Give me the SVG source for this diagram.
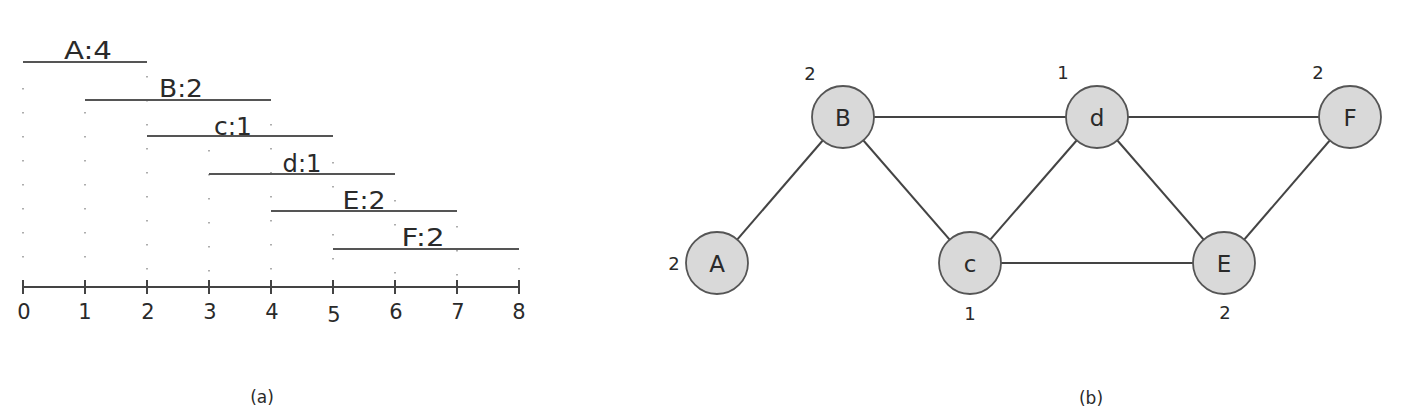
<svg xmlns="http://www.w3.org/2000/svg" width="1426" height="420" viewBox="0 0 1426 420">
<style>
text{font-family:"DejaVu Sans","Liberation Sans",sans-serif;fill:#2a2a2a}
.bar{stroke:#555;stroke-width:2.2;fill:none}
.grid{stroke:#999;stroke-width:1.6;stroke-dasharray:1.6 22.4;fill:none}
.axis{stroke:#444;stroke-width:2;fill:none}
.lbl{font-size:25px;text-anchor:middle}
.tick{font-size:21px;text-anchor:middle}
.cap{font-size:17px;text-anchor:middle}
.node circle{fill:#d9d9d9;stroke:#555;stroke-width:1.8}
.node text{font-size:23px;text-anchor:middle}
.deg{font-size:18px;text-anchor:middle}
.edge{stroke:#444;stroke-width:2;fill:none}
</style>
<g id="panel-a">
<g id="grid">
<line class="grid" x1="23" y1="88" x2="23" y2="280"/>
<line class="grid" x1="85" y1="112" x2="85" y2="280"/>
<line class="grid" x1="147" y1="76" x2="147" y2="280"/>
<line class="grid" x1="209" y1="150" x2="209" y2="280"/>
<line class="grid" x1="271" y1="124" x2="271" y2="280"/>
<line class="grid" x1="333" y1="162" x2="333" y2="280"/>
<line class="grid" x1="395" y1="200" x2="395" y2="280"/>
<line class="grid" x1="457" y1="226" x2="457" y2="280"/>
<line class="grid" x1="519" y1="268" x2="519" y2="280"/>
</g>
<g id="bars">
<line class="bar" x1="23" y1="62" x2="147" y2="62"/>
<line class="bar" x1="85" y1="100" x2="271" y2="100"/>
<line class="bar" x1="147" y1="136" x2="333" y2="136"/>
<line class="bar" x1="209" y1="174" x2="395" y2="174"/>
<line class="bar" x1="271" y1="211" x2="457" y2="211"/>
<line class="bar" x1="333" y1="249" x2="519" y2="249"/>
<text class="lbl" x="88" y="59" textLength="48" lengthAdjust="spacingAndGlyphs">A:4</text>
<text class="lbl" x="181" y="97" textLength="44" lengthAdjust="spacingAndGlyphs">B:2</text>
<text class="lbl" x="233" y="135" textLength="38" lengthAdjust="spacingAndGlyphs">c:1</text>
<text class="lbl" x="302" y="172" textLength="39" lengthAdjust="spacingAndGlyphs">d:1</text>
<text class="lbl" x="364" y="209" textLength="43" lengthAdjust="spacingAndGlyphs">E:2</text>
<text class="lbl" x="423" y="246" textLength="43" lengthAdjust="spacingAndGlyphs">F:2</text>
</g>
<g id="axis">
<line class="axis" x1="23" y1="287" x2="519" y2="287"/>
<path class="axis" d="M23 280V294M85 280V294M147 280V294M209 280V294M271 280V294M333 280V294M395 280V294M457 280V294M519 280V294"/>
<text class="tick" x="24" y="319">0</text>
<text class="tick" x="85" y="319">1</text>
<text class="tick" x="148" y="319">2</text>
<text class="tick" x="210" y="319">3</text>
<text class="tick" x="272" y="319">4</text>
<text class="tick" x="334" y="322">5</text>
<text class="tick" x="396" y="319">6</text>
<text class="tick" x="458" y="319">7</text>
<text class="tick" x="519" y="319">8</text>
</g>
<text class="cap" x="262" y="403">(a)</text>
</g>
<g id="panel-b">
<g id="edges">
<line class="edge" x1="843" y1="117" x2="717" y2="263"/>
<line class="edge" x1="843" y1="117" x2="1097" y2="117"/>
<line class="edge" x1="843" y1="117" x2="970" y2="263"/>
<line class="edge" x1="1097" y1="117" x2="1350" y2="117"/>
<line class="edge" x1="1097" y1="117" x2="970" y2="263"/>
<line class="edge" x1="1097" y1="117" x2="1224" y2="263"/>
<line class="edge" x1="970" y1="263" x2="1224" y2="263"/>
<line class="edge" x1="1350" y1="117" x2="1224" y2="263"/>
</g>
<g id="node-A" class="node"><circle cx="717" cy="263" r="31"/><text x="717" y="272">A</text></g>
<g id="node-B" class="node"><circle cx="843" cy="117" r="31"/><text x="843" y="126">B</text></g>
<g id="node-c" class="node"><circle cx="970" cy="263" r="31"/><text x="970" y="272">c</text></g>
<g id="node-d" class="node"><circle cx="1097" cy="117" r="31"/><text x="1097" y="126">d</text></g>
<g id="node-E" class="node"><circle cx="1224" cy="263" r="31"/><text x="1224" y="272">E</text></g>
<g id="node-F" class="node"><circle cx="1350" cy="117" r="31"/><text x="1350" y="126">F</text></g>
<g id="degrees">
<text class="deg" x="674" y="270">2</text>
<text class="deg" x="810" y="80">2</text>
<text class="deg" x="970" y="320">1</text>
<text class="deg" x="1063" y="79">1</text>
<text class="deg" x="1225" y="319">2</text>
<text class="deg" x="1318" y="79">2</text>
</g>
<text class="cap" x="1091" y="404">(b)</text>
</g>
</svg>
